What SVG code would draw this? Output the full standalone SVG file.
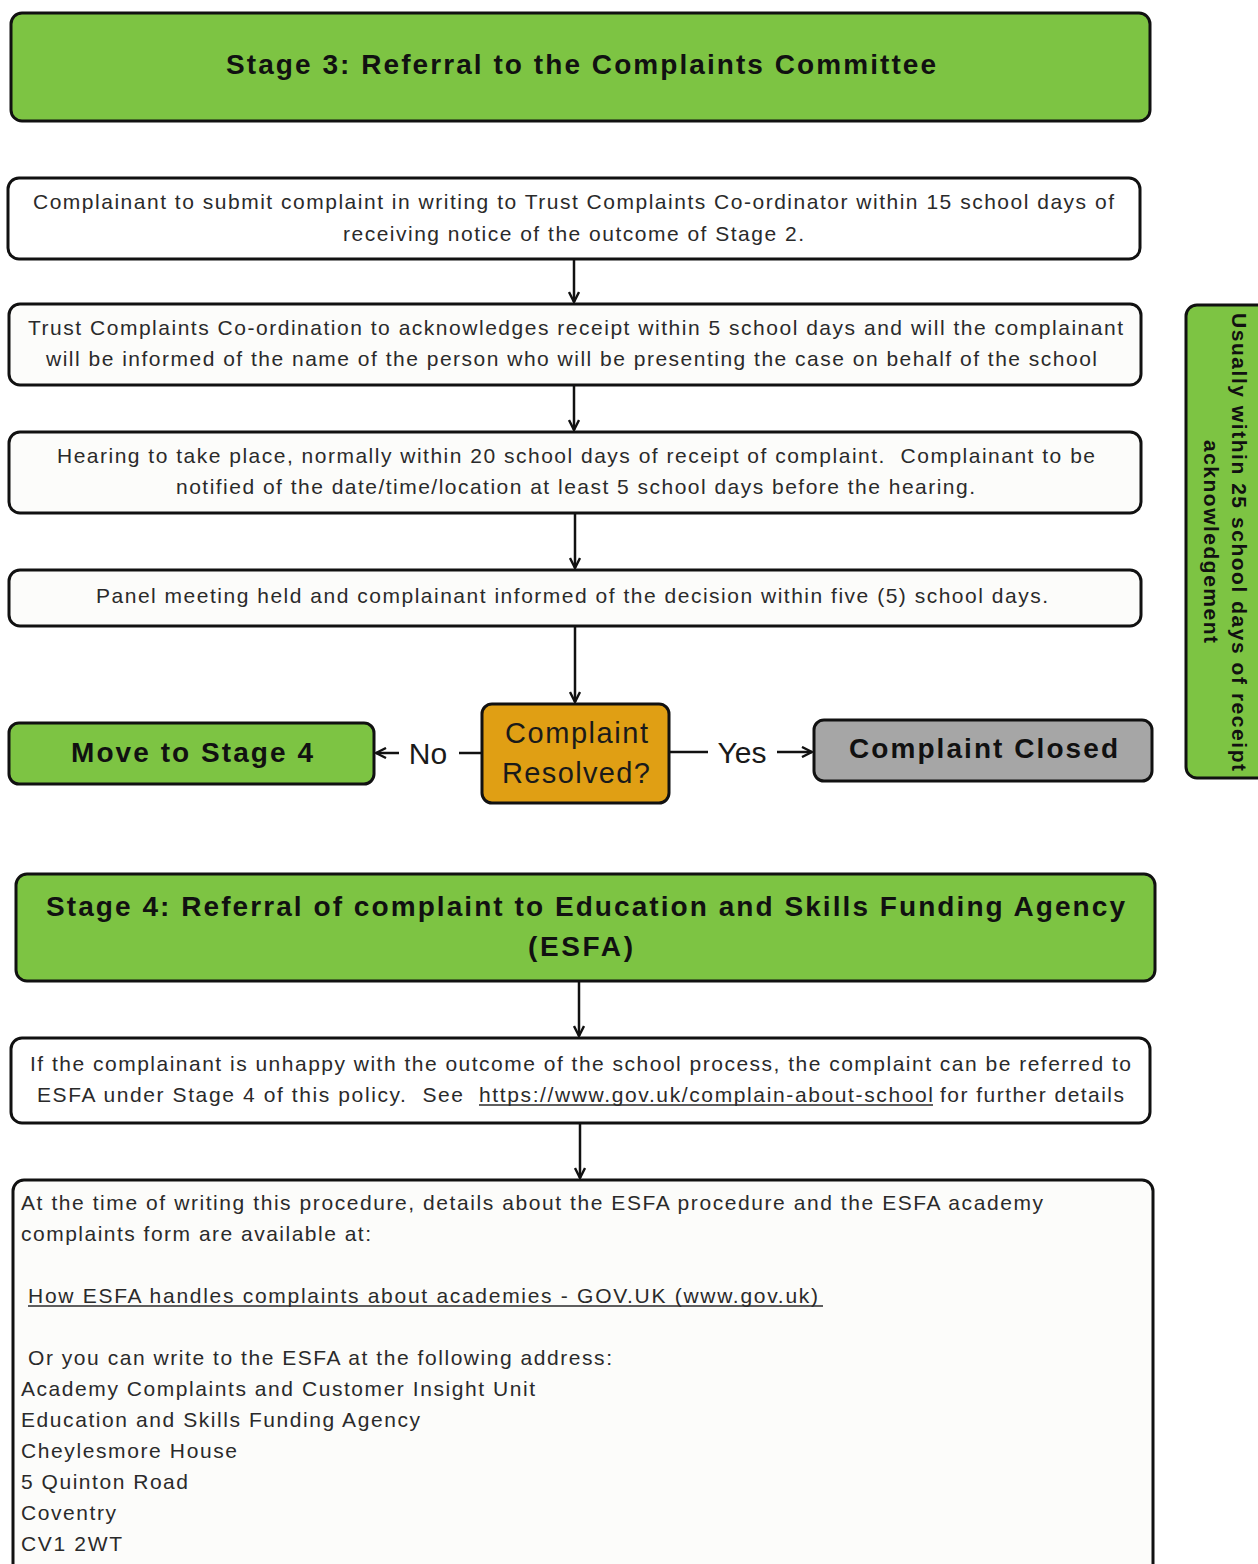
<svg xmlns="http://www.w3.org/2000/svg" width="1258" height="1564" viewBox="0 0 1258 1564">
<defs>
<marker id="ah" viewBox="0 0 12 12" refX="11" refY="6" markerWidth="12" markerHeight="12" markerUnits="userSpaceOnUse" orient="auto">
<path d="M1,1 L11,6 L1,11" fill="none" stroke="#111" stroke-width="2.4"/>
</marker>
<style>
.green{fill:#7DC443;stroke:#111;stroke-width:3}
.box{fill:#FCFCFA;stroke:#111;stroke-width:3}
.wbox{fill:#FFFFFF;stroke:#111;stroke-width:3}
.t{font-family:"Liberation Sans",Arial,sans-serif;font-size:21px;fill:#2a2a2a}
.tc{text-anchor:middle}
.h{font-family:"Liberation Sans",Arial,sans-serif;font-size:28px;font-weight:bold;fill:#111;text-anchor:middle}
.big{font-family:"Liberation Sans",Arial,sans-serif;font-size:30px;fill:#1a1a1a;text-anchor:middle}
.dec{font-family:"Liberation Sans",Arial,sans-serif;font-size:29px;fill:#1a1a1a;text-anchor:middle}
.side{font-family:"Liberation Sans",Arial,sans-serif;font-size:21px;font-weight:bold;fill:#111;text-anchor:middle}
.c{fill:none;stroke:#111;stroke-width:2.5}
.u{stroke:#2a2a2a;stroke-width:1.5}
</style>
</defs>

<g id="connectors">
<line class="c" x1="574" y1="260" x2="574" y2="302" marker-end="url(#ah)"/>
<line class="c" x1="574" y1="386" x2="574" y2="430" marker-end="url(#ah)"/>
<line class="c" x1="575" y1="514" x2="575" y2="568" marker-end="url(#ah)"/>
<line class="c" x1="575" y1="627" x2="575" y2="702" marker-end="url(#ah)"/>
<line class="c" x1="481" y1="753" x2="459" y2="753"/>
<line class="c" x1="399" y1="753" x2="376" y2="753" marker-end="url(#ah)"/>
<text class="big" x="428" y="764">No</text>
<line class="c" x1="670" y1="752" x2="708" y2="752"/>
<line class="c" x1="777" y1="752" x2="812" y2="752" marker-end="url(#ah)"/>
<text class="big" x="742" y="763">Yes</text>
<line class="c" x1="579" y1="982" x2="579" y2="1036" marker-end="url(#ah)"/>
<line class="c" x1="580" y1="1124" x2="580" y2="1178" marker-end="url(#ah)"/>
</g>

<g id="stage3">
<rect class="green" x="11" y="13" width="1139" height="108" rx="11"/>
<text class="h" x="581" y="74" textLength="710" lengthAdjust="spacing">Stage 3: Referral to the Complaints Committee</text>
</g>

<g id="step1">
<rect class="wbox" x="8" y="178" width="1132" height="81" rx="11"/>
<text class="t tc" x="573.5" y="209" textLength="1081" lengthAdjust="spacing">Complainant to submit complaint in writing to Trust Complaints Co-ordinator within 15 school days of</text>
<text class="t tc" x="573.5" y="241" textLength="461" lengthAdjust="spacing">receiving notice of the outcome of Stage 2.</text>
</g>

<g id="step2">
<rect class="box" x="9" y="304" width="1132" height="81" rx="11"/>
<text class="t tc" x="575.5" y="335" textLength="1095" lengthAdjust="spacing">Trust Complaints Co-ordination to acknowledges receipt within 5 school days and will the complainant</text>
<text class="t tc" x="571.5" y="366" textLength="1051" lengthAdjust="spacing">will be informed of the name of the person who will be presenting the case on behalf of the school</text>
</g>

<g id="step3">
<rect class="box" x="9" y="432" width="1132" height="81" rx="11"/>
<text class="t tc" x="576" y="463" textLength="1038" lengthAdjust="spacing" xml:space="preserve">Hearing to take place, normally within 20 school days of receipt of complaint.  Complainant to be</text>
<text class="t tc" x="575.5" y="494" textLength="799" lengthAdjust="spacing">notified of the date/time/location at least 5 school days before the hearing.</text>
</g>

<g id="step4">
<rect class="box" x="9" y="570" width="1132" height="56" rx="11"/>
<text class="t tc" x="572" y="603" textLength="952" lengthAdjust="spacing">Panel meeting held and complainant informed of the decision within five (5) school days.</text>
</g>

<g id="decision">
<rect x="482" y="704" width="187" height="99" rx="10" fill="#E09F14" stroke="#111" stroke-width="3"/>
<text class="dec" x="576.5" y="743" textLength="143" lengthAdjust="spacing">Complaint</text>
<text class="dec" x="576" y="783" textLength="148" lengthAdjust="spacing">Resolved?</text>
</g>

<g id="move4">
<rect class="green" x="9" y="723" width="365" height="61" rx="10"/>
<text class="h" x="192" y="762" textLength="242" lengthAdjust="spacing">Move to Stage 4</text>
</g>

<g id="closed">
<rect x="814" y="720" width="338" height="61" rx="10" fill="#A6A6A6" stroke="#111" stroke-width="3"/>
<text class="h" x="983.5" y="758" textLength="269" lengthAdjust="spacing">Complaint Closed</text>
</g>

<g id="sidebar">
<rect class="green" x="1186" y="305" width="90" height="473" rx="11"/>
<text class="side" transform="translate(1232,542) rotate(90)" x="0" y="0" textLength="458" lengthAdjust="spacing">Usually within 25 school days of receipt</text>
<text class="side" transform="translate(1204,541.5) rotate(90)" x="0" y="0" textLength="203" lengthAdjust="spacing">acknowledgement</text>
</g>

<g id="stage4">
<rect class="green" x="16" y="874" width="1139" height="107" rx="11"/>
<text class="h" x="585.5" y="916" textLength="1079" lengthAdjust="spacing">Stage 4: Referral of complaint to Education and Skills Funding Agency</text>
<text class="h" x="580.5" y="956" textLength="105" lengthAdjust="spacing">(ESFA)</text>
</g>

<g id="esfa">
<rect class="wbox" x="11" y="1038" width="1139" height="85" rx="11"/>
<text class="t tc" x="580.5" y="1071" textLength="1101" lengthAdjust="spacing">If the complainant is unhappy with the outcome of the school process, the complaint can be referred to</text>
<text class="t" x="37" y="1102" textLength="426" lengthAdjust="spacing" xml:space="preserve">ESFA under Stage 4 of this policy.  See</text>
<text class="t" x="479" y="1102" textLength="454" lengthAdjust="spacing">https://www.gov.uk/complain-about-school</text>
<line class="u" x1="479" y1="1105" x2="933" y2="1105"/>
<text class="t" x="940" y="1102" textLength="184" lengthAdjust="spacing">for further details</text>
</g>

<g id="details">
<rect class="box" x="13" y="1180" width="1140" height="420" rx="11"/>
<text class="t" x="21" y="1210" textLength="1022" lengthAdjust="spacing">At the time of writing this procedure, details about the ESFA procedure and the ESFA academy</text>
<text class="t" x="21" y="1241" textLength="350" lengthAdjust="spacing">complaints form are available at:</text>
<text class="t" x="28" y="1303" textLength="790" lengthAdjust="spacing">How ESFA handles complaints about academies - GOV.UK (www.gov.uk)</text>
<line class="u" x1="28" y1="1306" x2="823" y2="1306"/>
<text class="t" x="28" y="1365" textLength="584" lengthAdjust="spacing">Or you can write to the ESFA at the following address:</text>
<text class="t" x="21" y="1396" textLength="514" lengthAdjust="spacing">Academy Complaints and Customer Insight Unit</text>
<text class="t" x="21" y="1427" textLength="399" lengthAdjust="spacing">Education and Skills Funding Agency</text>
<text class="t" x="21" y="1458" textLength="216" lengthAdjust="spacing">Cheylesmore House</text>
<text class="t" x="21" y="1489" textLength="167" lengthAdjust="spacing">5 Quinton Road</text>
<text class="t" x="21" y="1520" textLength="95" lengthAdjust="spacing">Coventry</text>
<text class="t" x="21" y="1551" textLength="101" lengthAdjust="spacing">CV1 2WT</text>
</g>
</svg>
